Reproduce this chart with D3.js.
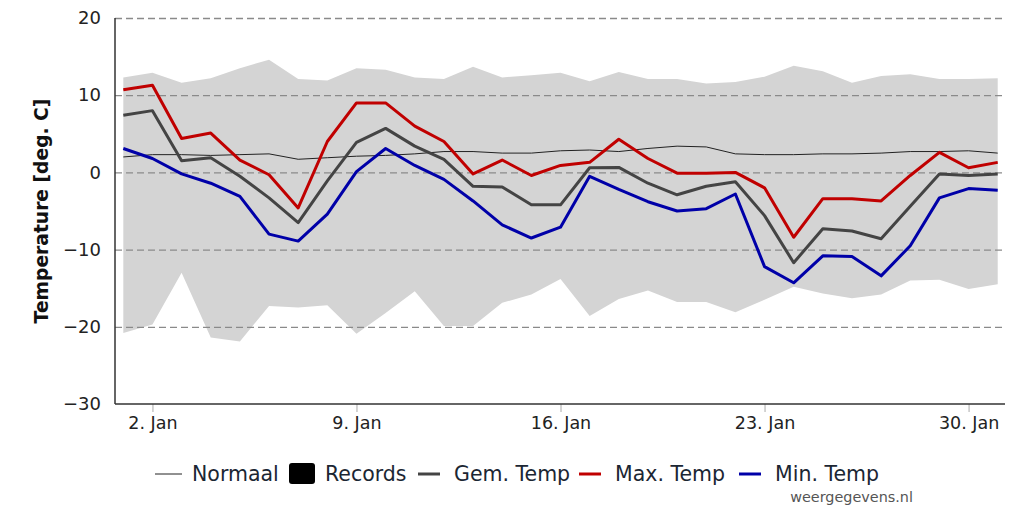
<!DOCTYPE html>
<meta charset="utf-8">
<head>
    <style>
        body{
            margin: 0;
            background-color: white;
            font-family: "DejaVu Sans", sans-serif;
        }
        .grid line {
            stroke: #8a8a8a;
            stroke-dasharray: 7,4;
            stroke-width: 1.3;
        }
        .grid path {
            stroke-width: 0;
        }
    </style>
</head>
<body>
<div id="chart"></div>

<script src="https://d3js.org/d3.v7.min.js"></script>
<script>

    // daily values for January (day 1..31)
    const days = d3.range(1, 32);
    const normaal = [2.0, 2.3, 2.3, 2.2, 2.3, 2.4, 1.7, 1.9, 2.1, 2.2, 2.4, 2.7, 2.7, 2.5, 2.5, 2.8,
        2.9, 2.7, 3.1, 3.4, 3.3, 2.4, 2.3, 2.3, 2.4, 2.4, 2.5, 2.7, 2.7, 2.8, 2.5];
    const recordHigh = [12.3, 12.9, 11.6, 12.2, 13.5, 14.6, 12.1, 11.9, 13.5, 13.3, 12.3, 12.1, 13.7, 12.3, 12.6, 12.9,
        11.8, 13.0, 12.1, 12.1, 11.5, 11.7, 12.4, 13.8, 13.1, 11.6, 12.5, 12.7, 12.1, 12.1, 12.2];
    const recordLow = [-20.8, -19.7, -13.0, -21.4, -21.9, -17.3, -17.5, -17.2, -20.9, -18.2, -15.4, -19.9, -19.9, -16.9, -15.8, -13.8,
        -18.6, -16.4, -15.3, -16.8, -16.8, -18.1, -16.5, -14.8, -15.7, -16.3, -15.8, -14.0, -13.9, -15.1, -14.5];
    const gemTemp = [7.4, 8.0, 1.5, 1.9, -0.5, -3.3, -6.5, -1.1, 3.9, 5.7, 3.4, 1.7, -1.8, -1.9, -4.2, -4.2,
        0.6, 0.65, -1.4, -2.9, -1.8, -1.2, -5.6, -11.7, -7.3, -7.6, -8.6, -4.4, -0.2, -0.4, -0.2];
    const maxTemp = [10.7, 11.3, 4.4, 5.1, 1.6, -0.3, -4.6, 4.0, 9.0, 9.0, 6.0, 4.0, -0.2, 1.6, -0.4, 0.9,
        1.3, 4.3, 1.8, -0.1, -0.1, 0.0, -2.0, -8.4, -3.4, -3.4, -3.7, -0.4, 2.6, 0.6, 1.3];
    const minTemp = [3.1, 1.8, -0.2, -1.4, -3.1, -8.0, -8.9, -5.4, 0.1, 3.1, 0.9, -0.9, -3.7, -6.8, -8.5, -7.1,
        -0.5, -2.2, -3.8, -5.0, -4.7, -2.8, -12.2, -14.3, -10.8, -10.9, -13.4, -9.5, -3.3, -2.1, -2.3];

    const tickDays = [2, 9, 16, 23, 30];
    const tickLabels = ["2. Jan", "9. Jan", "16. Jan", "23. Jan", "30. Jan"];
    const yTicks = [-30, -20, -10, 0, 10, 20];

    const legendNames = ["Normaal", "Records", "Gem. Temp", "Max. Temp", "Min. Temp"];
    const legendColors = ["#222", "#000", "#444", "#c00000", "#0000a8"];

    // set the dimensions and margins of the graph
    const margin = {top: 18, right: 19, bottom: 108, left: 115},
        width = 1024 - margin.left - margin.right,
        height = 512 - margin.top - margin.bottom;

    const svg = d3.select("#chart")
        .append("svg")
        .attr("width", 1024)
        .attr("height", 512)
        .append("g")
        .attr("transform", `translate(${margin.left}, ${margin.top})`);

    const x = d3.scaleLinear()
        .domain([0.715, 31.25])
        .range([0, width]);

    const y = d3.scaleLinear()
        .domain([-30, 20])
        .range([height, 0]);

    const data = days.map(function(d, i) {
        return {day: d, normaal: normaal[i], hi: recordHigh[i], lo: recordLow[i],
            gem: gemTemp[i], max: maxTemp[i], min: minTemp[i]};
    });

    // records band
    svg.append("path")
        .datum(data)
        .attr("fill", "#d4d4d4")
        .attr("d", d3.area()
            .x(function(d) { return x(d.day) })
            .y0(function(d) { return y(d.lo) })
            .y1(function(d) { return y(d.hi) })
        );

    // y gridlines
    svg.append("g")
        .attr("class", "grid")
        .call(d3.axisLeft(y)
            .tickValues(yTicks.filter(function(t) { return t > -30 }))
            .tickSize(-width)
            .tickFormat("")
        );

    // y axis labels
    const yAxis = svg.append("g")
        .call(d3.axisLeft(y).tickValues(yTicks).tickSize(0).tickPadding(14));
    yAxis.select(".domain").remove();
    yAxis.selectAll("text")
        .style("font", "18px 'DejaVu Sans'")
        .attr("fill", "#222");

    // x axis
    const xAxis = svg.append("g")
        .attr("transform", `translate(0, ${height})`)
        .call(d3.axisBottom(x)
            .tickValues(tickDays)
            .tickSize(8)
            .tickPadding(5)
            .tickFormat(function(d, i) { return tickLabels[i] })
        );
    xAxis.select(".domain").remove();
    xAxis.selectAll("line").attr("stroke", "#aaa");
    xAxis.selectAll("text")
        .style("font", "17.5px 'DejaVu Sans'")
        .attr("fill", "#222");

    // axis lines
    svg.append("line")
        .attr("x1", 0).attr("x2", 0)
        .attr("y1", 0).attr("y2", height)
        .attr("stroke", "#333")
        .attr("stroke-width", 1.5);
    svg.append("line")
        .attr("x1", 0).attr("x2", width)
        .attr("y1", height).attr("y2", height)
        .attr("stroke", "#333")
        .attr("stroke-width", 1.5);

    // Y axis label
    svg.append("text")
        .attr("text-anchor", "middle")
        .attr("transform", "rotate(-90)")
        .attr("x", -height / 2)
        .attr("y", -margin.left + 48)
        .attr("font-weight", "bold")
        .attr("font-size", "18.7px")
        .attr("fill", "#111")
        .text("Temperature [deg. C]");

    // lines
    function addLine(key, color, w) {
        svg.append("path")
            .datum(data)
            .attr("fill", "none")
            .attr("stroke", color)
            .attr("stroke-width", w)
            .attr("stroke-linejoin", "round")
            .attr("d", d3.line()
                .x(function(d) { return x(d.day) })
                .y(function(d) { return y(d[key]) })
            );
    }
    addLine("normaal", "#222", 1);
    addLine("gem", "#444", 3);
    addLine("max", "#c00000", 3);
    addLine("min", "#0000a8", 3);

    // legend
    const legend = d3.select("svg").append("g");
    const legendX = [155, 289, 418, 579, 739];
    legendNames.forEach(function(name, i) {
        const g = legend.append("g").attr("transform", `translate(${legendX[i]}, 474)`);
        if (name === "Records") {
            g.append("rect")
                .attr("x", 0).attr("y", -11)
                .attr("width", 26).attr("height", 21)
                .attr("rx", 3)
                .attr("fill", legendColors[i]);
        } else {
            g.append("line")
                .attr("x1", 0).attr("x2", name === "Normaal" ? 27 : 22)
                .attr("y1", 0).attr("y2", 0)
                .attr("stroke", legendColors[i])
                .attr("stroke-width", name === "Normaal" ? 1 : 3);
        }
        g.append("text")
            .attr("x", name === "Normaal" ? 37 : (name === "Records" ? 36 : 36))
            .attr("y", 7)
            .attr("font-size", "20.5px")
            .attr("fill", "#1b2633")
            .text(name);
    });

    d3.select("svg").append("text")
        .attr("x", 913)
        .attr("y", 502)
        .attr("text-anchor", "end")
        .attr("font-size", "14.4px")
        .attr("fill", "#555")
        .text("weergegevens.nl");

</script>
</body>
